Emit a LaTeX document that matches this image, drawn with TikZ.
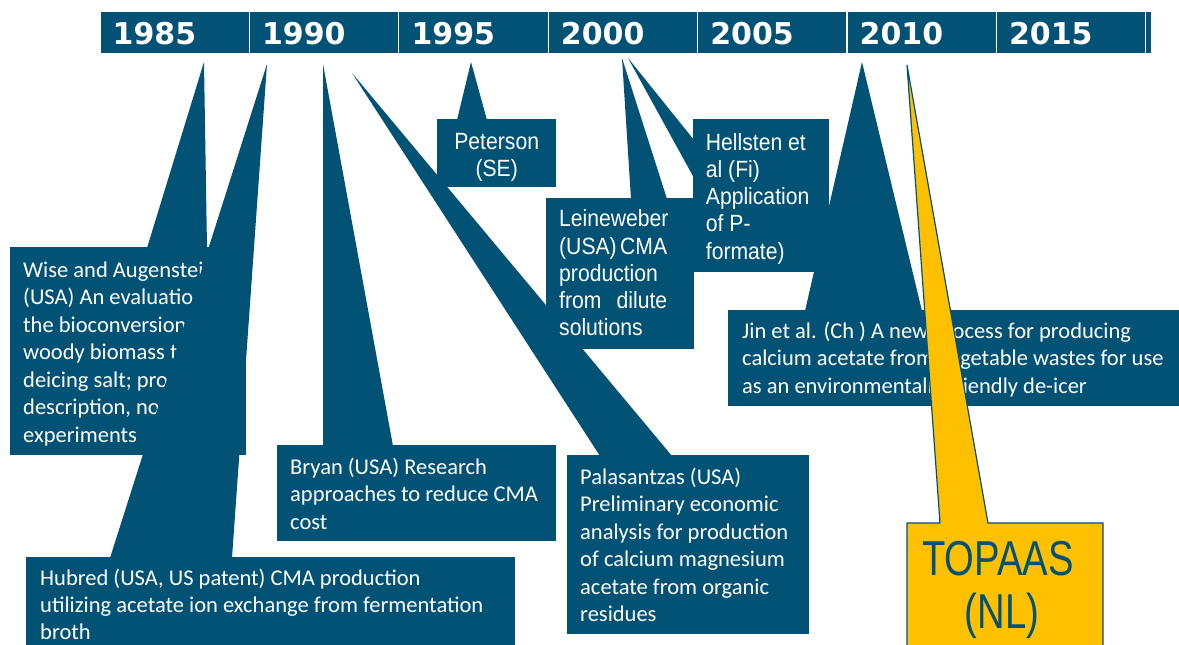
\documentclass[tikz,border=0pt]{standalone}
\usepackage{fontspec}
\setmainfont{Carlito}
\newfontfamily\yearfont{DejaVu Sans}
\newfontfamily\condfont[FakeStretch=0.9]{Liberation Sans}
\newfontfamily\bigcondfont[FakeStretch=0.78]{Liberation Sans}
\definecolor{navy}{RGB}{2,82,117}
\definecolor{gold}{RGB}{255,192,0}
% multi-line text block whose reference point is the first baseline
\newcommand{\txtblock}[2]{\parbox[t]{#1}{\raggedright #2}}
\newcommand{\ctrblock}[2]{\parbox[t]{#1}{\centering #2}}

\begin{document}
\begin{tikzpicture}[x=1pt,y=-1pt,
  cell/.style={fill=navy, draw=white, line width=1.2pt, inner sep=0pt, outer sep=0pt,
    anchor=north west, minimum height=43pt, minimum width=149.4pt},
  year/.style={anchor=base west, inner sep=0pt, text=white,
    font=\yearfont\bfseries\fontsize{30}{30}\selectfont},
  box/.style={fill=navy, draw=none, inner sep=0pt, outer sep=0pt, anchor=north west},
  wedge/.style={fill=navy},
  ctext/.style={anchor=base west, inner sep=0pt, text=white,
    font=\fontsize{22.5}{27.5}\selectfont},
  ntext/.style={anchor=base west, inner sep=0pt, text=white,
    font=\condfont\fontsize{23.5}{27.3}\selectfont},
  topaas/.style={anchor=base, inner sep=0pt, text=navy,
    font=\bigcondfont\fontsize{49}{53}\selectfont}]

\useasboundingbox (0,0) rectangle (1179,645);
\clip (0,0) rectangle (1179,645);

% ---- time bar ----
\foreach \i in {0,...,6}
  \node[cell] (cell\i) at ({100+149.4*\i},11) {};
\node[cell, minimum width=6pt] (cell7) at (1145.8,11) {};
\foreach \yr [count=\i from 0] in {1985,1990,1995,2000,2005,2010,2015}
  \node[year] (yr\yr) at ({112.5+149.4*\i},45) {\yr};

% ---- pointer tips ----
\coordinate (tipWise) at (204,62);
\coordinate (tipHub)  at (267,64);
\coordinate (tipBry)  at (323,64);
\coordinate (tipPal)  at (352,73);
\coordinate (tipPet)  at (471,62);
\coordinate (tipLei)  at (622,58);
\coordinate (tipHel)  at (628,58);
\coordinate (tipJin)  at (862,62);
\coordinate (tipTop)  at (907,65);

% ---- Wise and Augenstein ----
\node[box, minimum width=236pt, minimum height=208pt] (wise) at (10,247) {};
\fill[wedge] (tipWise) -- (147,248) -- (207,248) -- cycle;
\node[ctext] (wiseT) at (23,277) {\txtblock{300pt}{Wise and Augenstein\\
(USA) An evaluation of\\the bioconversion of\\woody biomass to\\
deicing salt; process\\description, no\\experiments}};

% ---- Hubred ----
\fill[wedge] (tipHub) -- (110,558) -- (232,558) -- cycle;
\node[box, minimum width=489pt, minimum height=110pt] (hub) at (26,557) {};
\node[ctext] (hubT) at (40,585) {\txtblock{470pt}{\fontsize{22.5}{27}\selectfont
Hubred (USA, US patent) CMA production\\
utilizing acetate ion exchange from fermentation\\broth}};

% ---- Bryan ----
\fill[wedge] (tipBry) -- (323,446) -- (393,446) -- cycle;
\node[box, minimum width=279pt, minimum height=96pt] (bry) at (277,445) {};
\node[ctext] (bryT) at (290,474) {\txtblock{265pt}{Bryan (USA) Research\\
approaches to reduce CMA\\cost}};

% ---- Palasantzas ----
\fill[wedge] (tipPal) -- (600,456) -- (672,456) -- cycle;
\node[box, minimum width=242pt, minimum height=179pt] (pal) at (567,455) {};
\node[ctext] (palT) at (580,484) {\txtblock{228pt}{Palasantzas (USA)\\
Preliminary economic\\analysis for production\\of calcium magnesium\\
acetate from organic\\residues}};

% ---- Peterson ----
\fill[wedge] (tipPet) -- (457,120) -- (487,120) -- cycle;
\node[box, minimum width=119pt, minimum height=68pt] (pet) at (437,119) {};
\node[ntext] (petT) at (437,149) {\ctrblock{119pt}{Peterson\\(SE)}};

% ---- Leineweber ----
\fill[wedge] (tipLei) -- (631,199) -- (667,199) -- cycle;
\node[box, minimum width=148pt, minimum height=151pt] (lei) at (546,198) {};
\node[ntext] (leiT) at (559,226.7) {\txtblock{108pt}{Leineweber\\
(USA)\hfill CMA\\production\\from\hfill dilute\\solutions}};

% ---- Hellsten ----
\fill[wedge] (tipHel) -- (694,140) -- (694,178) -- cycle;
\node[box, minimum width=136pt, minimum height=153pt] (hel) at (693,119) {};
\node[ntext] (helT) at (705.7,150) {\txtblock{120pt}{Hellsten et\\al (Fi)\\
Application\\of P-\\formate)}};

% ---- Jin et al. ----
\fill[wedge] (tipJin) -- (805,311) -- (922,311) -- cycle;
\node[box, minimum width=460pt, minimum height=96pt] (jin) at (728,310) {};
\node[ctext] (jinT) at (742,338) {\txtblock{440pt}{Jin et al. (Ch ) A new process for producing\\
calcium acetate from vegetable wastes for use\\
as an environmentally friendly de-icer}};

% ---- TOPAAS ----
\coordinate (topBL) at (907,660);
\coordinate (topBR) at (1103,660);
\filldraw[fill=gold, draw=navy, line width=1.2pt, line join=miter]
  (940,523) -- (tipTop) -- (988,523) -- (1103,523) -- (topBR) -- (topBL) -- (907,523) -- cycle;
\node[topaas] (topT1) at (998,575) {TOPAAS};
\node[topaas] (topT2) at (1002,628) {(NL)};

\end{tikzpicture}
\end{document}
